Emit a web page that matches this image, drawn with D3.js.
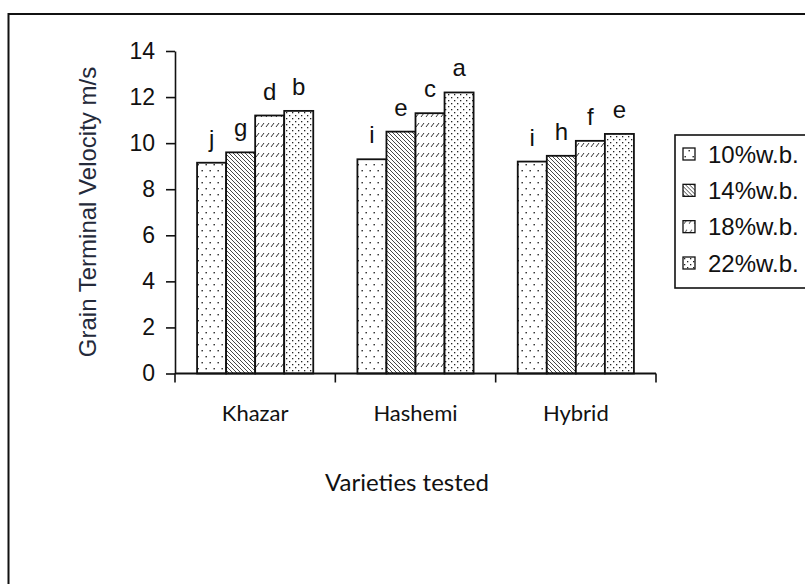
<!DOCTYPE html>
<html>
<head>
<meta charset="utf-8">
<script src="https://cdn.jsdelivr.net/npm/d3@7"></script>
<style>
  body { margin: 0; background: #fff; }
  svg { display: block; }
</style>
</head>
<body>
<div id="plot"></div>
<script>
// Chart data
var varieties = ["Khazar", "Hashemi", "Hybrid"];
var moisture = ["10%w.b.", "14%w.b.", "18%w.b.", "22%w.b."];
var velocity_10 = [9.15, 9.3, 9.2];
var velocity_14 = [9.6, 10.5, 9.45];
var velocity_18 = [11.2, 11.3, 10.1];
var velocity_22 = [11.4, 12.2, 10.4];
var letters_10 = ["j", "i", "i"];
var letters_14 = ["g", "e", "h"];
var letters_18 = ["d", "c", "f"];
var letters_22 = ["b", "a", "e"];
var y_ticks = [0, 2, 4, 6, 8, 10, 12, 14];

var width = 805, height = 584;
var ink = "#111";

var svg = d3.select("div#plot").append("svg")
    .attr("width", width)
    .attr("height", height)
    .attr("viewBox", "0 0 " + width + " " + height);

// Fill patterns, one per moisture level.
var defs = svg.append("defs");

var p10 = defs.append("pattern").attr("id", "p10")
    .attr("patternUnits", "userSpaceOnUse").attr("width", 8).attr("height", 12);
p10.append("rect").attr("width", 8).attr("height", 12).attr("fill", "#fff");
p10.append("rect").attr("x", 1.5).attr("y", 2).attr("width", 1.4).attr("height", 1.4).attr("fill", "#222");
p10.append("rect").attr("x", 5.5).attr("y", 8).attr("width", 1.4).attr("height", 1.4).attr("fill", "#222");

var p14 = defs.append("pattern").attr("id", "p14")
    .attr("patternUnits", "userSpaceOnUse").attr("width", 4).attr("height", 4);
p14.append("rect").attr("width", 4).attr("height", 4).attr("fill", "#fff");
p14.append("path").attr("d", "M-1,-1 L5,5 M-1,3 L1,5 M3,-1 L5,1")
    .attr("stroke", "#333").attr("stroke-width", 0.9);

var p18 = defs.append("pattern").attr("id", "p18")
    .attr("patternUnits", "userSpaceOnUse").attr("width", 5).attr("height", 10);
p18.append("rect").attr("width", 5).attr("height", 10).attr("fill", "#fff");
p18.append("path").attr("d", "M1,7 L4,3")
    .attr("stroke", "#333").attr("stroke-width", 1);

var p22 = defs.append("pattern").attr("id", "p22")
    .attr("patternUnits", "userSpaceOnUse").attr("width", 6).attr("height", 6);
p22.append("rect").attr("width", 6).attr("height", 6).attr("fill", "#fff");
p22.append("rect").attr("x", 1).attr("y", 1).attr("width", 1.3).attr("height", 1.3).attr("fill", "#222");
p22.append("rect").attr("x", 4).attr("y", 4).attr("width", 1.3).attr("height", 1.3).attr("fill", "#222");

var fills = ["url(#p10)", "url(#p14)", "url(#p18)", "url(#p22)"];

// Outer frame (runs off the right and bottom edges).
svg.append("rect")
    .attr("x", 8.5).attr("y", 14)
    .attr("width", 820).attr("height", 600)
    .attr("fill", "none").attr("stroke", ink).attr("stroke-width", 2);

// Scales
var x_scale = d3.scaleBand()
    .domain(varieties)
    .range([175, 656]);

var x_inner = d3.scaleBand()
    .domain(moisture)
    .range([0, x_scale.bandwidth()])
    .paddingInner(0)
    .paddingOuter(0.76);

var y_scale = d3.scaleLinear()
    .domain([0, 14])
    .range([373.5, 51]);

// Bars
var series = [velocity_10, velocity_14, velocity_18, velocity_22];
var series_letters = [letters_10, letters_14, letters_18, letters_22];
var bar_data = [];
varieties.forEach(function(v, i) {
    moisture.forEach(function(m, j) {
        bar_data.push({ variety: v, level: m, k: j, value: series[j][i], letter: series_letters[j][i] });
    });
});

var g_bars = svg.append("g").attr("id", "bars");
g_bars.selectAll("rect")
    .data(bar_data)
    .join("rect")
        .attr("x", d => x_scale(d.variety) + x_inner(d.level))
        .attr("y", d => y_scale(d.value))
        .attr("width", x_inner.bandwidth())
        .attr("height", d => y_scale(0) - y_scale(d.value))
        .attr("fill", d => fills[d.k])
        .attr("stroke", ink)
        .attr("stroke-width", 1.8);

// Significance letters
g_bars.selectAll("text")
    .data(bar_data)
    .join("text")
        .attr("x", d => x_scale(d.variety) + x_inner(d.level) + x_inner.bandwidth() / 2)
        .attr("y", d => y_scale(d.value) - 16)
        .attr("text-anchor", "middle")
        .style("font-family", "Liberation Sans, Arial, sans-serif")
        .style("font-size", "24px")
        .style("fill", ink)
        .text(d => d.letter);

// Y axis
var g_y_axis = svg.append("g")
    .attr("id", "y_axis")
    .attr("transform", "translate(175, 0)")
    .call(d3.axisLeft(y_scale).tickValues(y_ticks).tickSize(9).tickPadding(11).tickSizeOuter(0));
g_y_axis.selectAll("path, line").attr("stroke", ink).attr("stroke-width", 1.6);
g_y_axis.selectAll("text")
    .style("font-family", "Liberation Sans, Arial, sans-serif")
    .style("font-size", "23px")
    .style("fill", ink);

// X axis: ticks sit on category boundaries
var boundaries = varieties.map(d => x_scale(d)).concat([x_scale.range()[1]]);
var g_x_axis = svg.append("g")
    .attr("id", "x_axis")
    .attr("transform", "translate(0, " + y_scale(0) + ")");
g_x_axis.append("line")
    .attr("x1", 175).attr("x2", 656)
    .attr("stroke", ink).attr("stroke-width", 1.8);
g_x_axis.selectAll("line.tick")
    .data(boundaries)
    .join("line")
        .attr("class", "tick")
        .attr("x1", d => d).attr("x2", d => d)
        .attr("y1", 0).attr("y2", 9)
        .attr("stroke", ink).attr("stroke-width", 1.6);
g_x_axis.selectAll("text")
    .data(varieties)
    .join("text")
        .attr("x", d => x_scale(d) + x_scale.bandwidth() / 2)
        .attr("y", 47)
        .attr("text-anchor", "middle")
        .style("font-family", "Lato, sans-serif")
        .style("font-size", "22px")
        .style("fill", ink)
        .text(d => d);

// Axis titles
svg.append("text")
    .attr("transform", "translate(96, 212) rotate(-90)")
    .attr("text-anchor", "middle")
    .style("font-family", "Liberation Sans, Arial, sans-serif")
    .style("font-size", "24px")
    .style("fill", "#242a3a")
    .text("Grain Terminal Velocity m/s");

svg.append("text")
    .attr("x", 407)
    .attr("y", 491)
    .attr("text-anchor", "middle")
    .style("font-family", "Lato, sans-serif")
    .style("font-size", "24px")
    .style("fill", ink)
    .text("Varieties tested");

// Legend
var g_legend = svg.append("g").attr("id", "legend");
g_legend.append("rect")
    .attr("x", 675).attr("y", 135)
    .attr("width", 150).attr("height", 153)
    .attr("fill", "#fff").attr("stroke", ink).attr("stroke-width", 1.6);

var legend_y = d3.scalePoint().domain(moisture).range([154, 263]);
var items = g_legend.selectAll("g.item")
    .data(moisture)
    .join("g")
        .attr("class", "item")
        .attr("transform", d => "translate(683, " + legend_y(d) + ")");
items.append("rect")
    .attr("x", 0).attr("y", -6)
    .attr("width", 12).attr("height", 12)
    .attr("fill", (d, i) => fills[i])
    .attr("stroke", ink).attr("stroke-width", 1.3);
items.append("text")
    .attr("x", 25).attr("y", 8.5)
    .style("font-family", "Liberation Sans, Arial, sans-serif")
    .style("font-size", "24px")
    .style("fill", ink)
    .text(d => d);
</script>
</body>
</html>
